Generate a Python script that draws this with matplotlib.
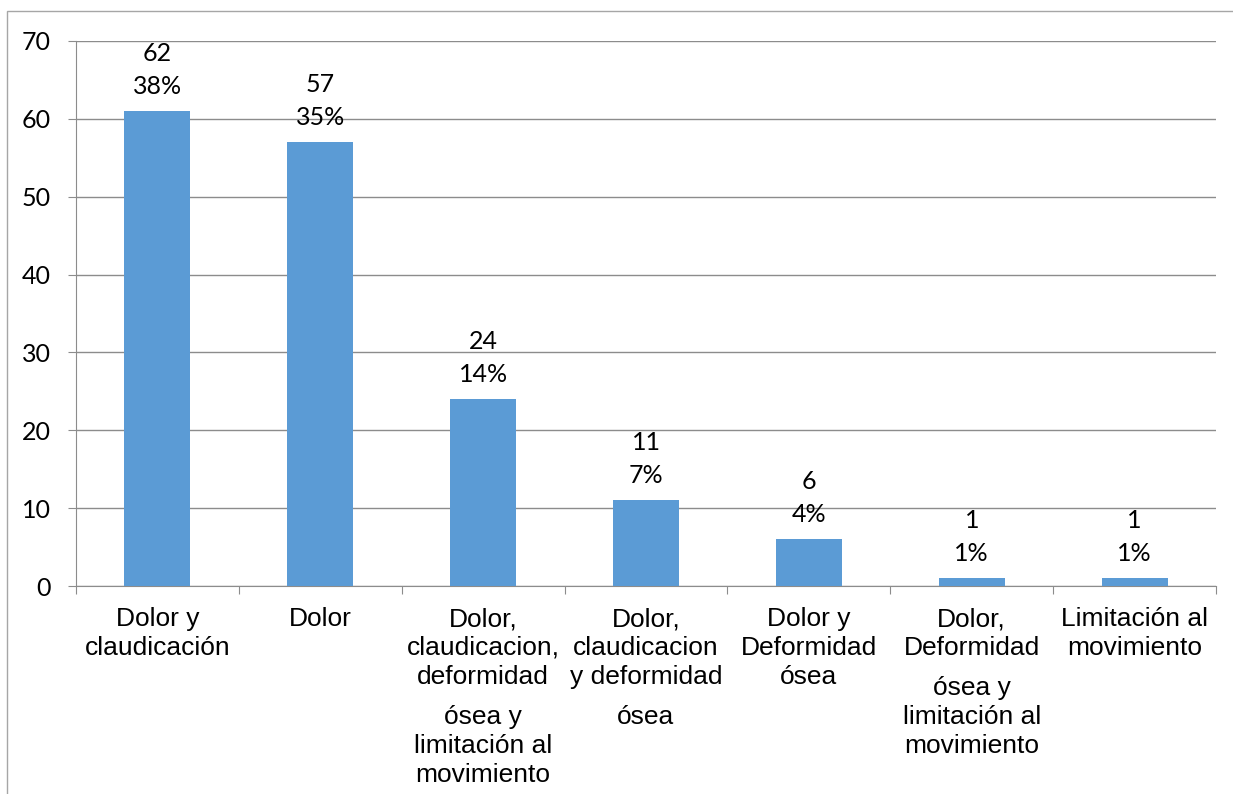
import matplotlib
matplotlib.use("Agg")
import matplotlib.pyplot as plt
from matplotlib.patches import Rectangle

categories = [
    ["Dolor y", "claudicación"],
    ["Dolor"],
    ["Dolor,", "claudicacion,", "deformidad", None, "ósea y", "limitación al", "movimiento"],
    ["Dolor,", "claudicacion", "y deformidad", None, "ósea"],
    ["Dolor y", "Deformidad", "ósea"],
    ["Dolor,", "Deformidad", None, "ósea y", "limitación al", "movimiento"],
    ["Limitación al", "movimiento"],
]
heights = [61, 57, 24, 11, 6, 1, 1]
count_labels = ["62", "57", "24", "11", "6", "1", "1"]
pct_labels = ["38%", "35%", "14%", "7%", "4%", "1%", "1%"]
yticks = [0, 10, 20, 30, 40, 50, 60, 70]

W, H = 1233, 794
fig = plt.figure(figsize=(W / 100, H / 100), dpi=100)
ax = fig.add_axes([76 / W, 1 - 586 / H, (1216 - 76) / W, (586 - 41) / H])

grid_c = "#8c8c8c"
bar_c = "#5b9bd5"
n = len(heights)
xs = list(range(n))
ax.bar(xs, heights, width=0.405, color=bar_c, zorder=3)
ax.set_xlim(-0.5, n - 0.5)
ax.set_ylim(0, 70)
ax.set_yticks(yticks)
ax.set_yticklabels([str(v) for v in yticks], fontsize=18, family="Lato")
ax.yaxis.grid(True, color=grid_c, linewidth=1)
ax.set_axisbelow(True)
ax.tick_params(axis="y", length=6, color=grid_c, pad=12)
ax.set_xticks([i - 0.5 for i in range(n + 1)])
ax.set_xticklabels([])
ax.tick_params(axis="x", length=6, color=grid_c, direction="out")
for s in ["top", "right"]:
    ax.spines[s].set_visible(False)
ax.spines["left"].set_color(grid_c)
ax.spines["bottom"].set_color(grid_c)

# Data labels
for i, h in enumerate(heights):
    ax.annotate(pct_labels[i], (i, h), xytext=(0, 25 * 0.72), textcoords="offset points",
                ha="center", va="center", fontsize=18, family="Lato", zorder=4)
    ax.annotate(count_labels[i], (i, h), xytext=(0, 58 * 0.72), textcoords="offset points",
                ha="center", va="center", fontsize=18, family="Lato", zorder=4)

# Category labels (line by line)
line_h = 29
for i, lines in enumerate(categories):
    y = 619
    for ln in lines:
        if ln is None:
            y += 11
            continue
        fig.text((76 + (i + 0.5) * (1140 / n)) / W, 1 - y / H, ln, ha="center", va="center",
                 fontsize=19, family=["Liberation Sans", "DejaVu Sans"])
        y += line_h

# Outer frame
fig.patches.append(Rectangle((7 / W, -0.1), 1.2, 1 - 11 / H + 0.1, transform=fig.transFigure,
                             fill=False, edgecolor="#a6a6a6", linewidth=1, clip_on=False))

fig.savefig("out.png", dpi=100)
